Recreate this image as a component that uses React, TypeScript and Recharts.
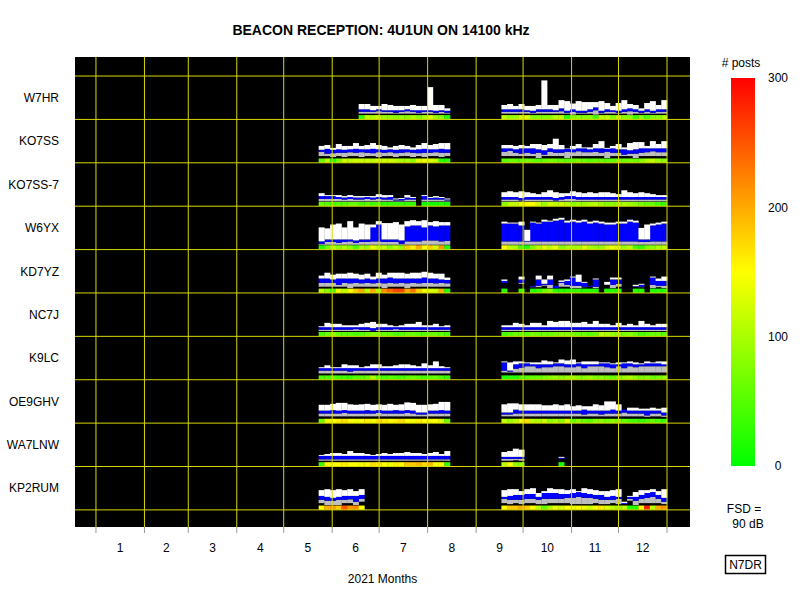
import React from 'react';
import { ComposedChart, Bar, Cell, XAxis, YAxis, CartesianGrid, ReferenceLine } from 'recharts';

// one bin = [posts, lo, q1, q3, hi] (signal levels in dB above the row floor), null = no reports
type Bin = [number, number, number, number, number] | null;

const STATIONS = ['W7HR', 'KO7SS', 'KO7SS-7', 'W6YX', 'KD7YZ', 'NC7J', 'K9LC', 'OE9GHV', 'WA7LNW', 'KP2RUM'];
const MONTH_EDGES = [0, 31, 59, 90, 120, 151, 181, 212, 243, 273, 304, 334, 365];
const MONTH_LABELS = ['1', '2', '3', '4', '5', '6', '7', '8', '9', '10', '11', '12'];
const POSTS_TICKS = [0, 100, 200, 300];

const BIN_DAYS = 3.65; // 100 bins per year
const SUMMER_FIRST = 39; // bins 39..61
const FALL_FIRST = 71; // bins 71..99

const W7HR_SUMMER: Bin[] = [
  null, null, null, null, null, null, null,
  [30, 12, 16, 21, 32], [110, 12, 16, 21, 32], [100, 12, 16, 19, 28], [120, 12, 17, 21, 28],
  [90, 12, 16, 19, 32], [90, 12, 16, 19, 30], [80, 12, 14, 19, 28], [90, 12, 16, 19, 28],
  [80, 12, 17, 21, 28], [100, 12, 16, 19, 30], [80, 12, 14, 19, 28], [100, 12, 16, 19, 28],
  [130, 12, 16, 19, 67], [90, 12, 14, 18, 30], [80, 12, 16, 19, 30], [20, 12, 14, 18, 23],
];
const W7HR_FALL: Bin[] = [
  [110, 12, 16, 21, 30], [90, 12, 16, 21, 32], [90, 12, 16, 21, 28], [130, 12, 16, 21, 32],
  [130, 12, 16, 19, 28], [80, 12, 14, 18, 28], [80, 12, 16, 21, 30], [80, 12, 16, 21, 81],
  [80, 12, 16, 21, 30], [110, 12, 16, 19, 30], [110, 12, 17, 23, 40], [20, 12, 14, 18, 38],
  [80, 10, 16, 21, 33], [80, 12, 14, 18, 38], [80, 12, 14, 18, 36], [80, 12, 16, 21, 36],
  [40, 10, 19, 25, 36], [110, 12, 14, 18, 38], [110, 12, 16, 21, 34], [80, 12, 16, 19, 28],
  [110, 12, 14, 18, 34], [80, 12, 16, 21, 40], [80, 10, 17, 23, 32], [30, 12, 16, 21, 30],
  [80, 12, 14, 18, 23], [40, 12, 16, 21, 34], [80, 12, 14, 18, 38], [80, 12, 16, 21, 30],
  [100, 12, 16, 21, 40],
];

const KO7SS_SUMMER: Bin[] = [
  [60, 14, 23, 27, 35], [110, 14, 19, 29, 37], [10, 12, 20, 27, 31], [70, 14, 21, 28, 39],
  [120, 12, 21, 27, 35], [110, 14, 22, 28, 35], [120, 14, 21, 29, 41], [120, 12, 22, 28, 35],
  [120, 14, 21, 28, 37], [110, 14, 20, 29, 41], [120, 12, 22, 28, 37], [120, 14, 21, 27, 35],
  [120, 14, 22, 28, 32], [110, 12, 20, 27, 35], [100, 14, 21, 28, 37], [100, 14, 22, 28, 35],
  [80, 12, 21, 27, 32], [130, 14, 20, 28, 37], [140, 12, 21, 29, 41], [130, 14, 21, 28, 37],
  [120, 14, 22, 28, 39], [20, 12, 21, 29, 41], [20, 14, 21, 28, 41],
];
const KO7SS_FALL: Bin[] = [
  [50, 14, 23, 30, 37], [60, 14, 25, 30, 37], [60, 14, 21, 28, 35], [50, 14, 19, 30, 37],
  [70, 14, 21, 30, 35], [60, 14, 19, 30, 39], [50, 10, 21, 28, 39], [60, 14, 17, 26, 37],
  [70, 14, 23, 30, 39], [60, 14, 21, 28, 50], [60, 14, 21, 28, 37], [50, 10, 23, 29, 30],
  [60, 14, 22, 28, 35], [70, 14, 24, 30, 39], [60, 14, 22, 30, 32], [50, 14, 22, 28, 32],
  [60, 14, 23, 30, 39], [60, 14, 21, 30, 45], [50, 10, 23, 29, 31], [60, 14, 21, 30, 35],
  [70, 14, 21, 28, 39], [60, 14, 17, 28, 32], [70, 14, 19, 26, 41], [60, 10, 19, 28, 43],
  [80, 14, 21, 30, 43], [100, 14, 22, 30, 35], [110, 14, 24, 30, 45], [90, 14, 22, 30, 39],
  [80, 14, 22, 30, 45],
];

const KO7SS7_SUMMER: Bin[] = [
  [60, 10, 15, 21, 27], [50, 10, 15, 21, 23], [40, 10, 15, 21, 23], [50, 10, 15, 19, 23],
  [50, 10, 14, 18, 21], [60, 10, 15, 19, 23], [60, 10, 14, 18, 21], [40, 10, 14, 18, 21],
  [50, 10, 15, 19, 21], [40, 10, 14, 18, 21], [40, 10, 15, 19, 25], [30, 10, 14, 18, 23],
  [30, 10, 14, 19, 23], [30, 10, 12, 14, 16], [30, 10, 12, 15, 17], [30, 10, 14, 18, 23],
  [30, 10, 14, 17, 19], null, [10, 10, 14, 21, 23], [10, 10, 14, 17, 19],
  [10, 10, 14, 18, 21], [20, 10, 14, 17, 19], [10, 10, 12, 14, 16],
];
const KO7SS7_FALL: Bin[] = [
  [80, 10, 14, 19, 29], [110, 10, 14, 19, 31], [110, 10, 14, 19, 29], [140, 10, 12, 17, 31],
  [150, 10, 14, 19, 29], [150, 10, 14, 19, 27], [120, 10, 14, 19, 25], [90, 10, 14, 19, 29],
  [120, 10, 14, 19, 33], [110, 10, 12, 17, 29], [120, 10, 14, 19, 27], [110, 10, 15, 21, 27],
  [80, 10, 15, 21, 31], [90, 10, 14, 19, 29], [90, 10, 14, 19, 27], [100, 10, 14, 19, 29],
  [110, 10, 14, 19, 27], [90, 10, 14, 19, 29], [80, 10, 14, 19, 29], [80, 10, 14, 19, 27],
  [90, 10, 14, 19, 25], [100, 10, 14, 19, 33], [90, 10, 14, 19, 29], [80, 10, 14, 19, 27],
  [70, 10, 14, 19, 29], [60, 10, 14, 19, 27], [60, 10, 14, 19, 25], [40, 10, 14, 19, 23],
  [30, 10, 14, 19, 23],
];

const W6YX_SUMMER: Bin[] = [
  [20, 10, 12, 17, 46], [60, 10, 16, 21, 44], [100, 10, 16, 21, 52], [80, 10, 14, 21, 54],
  [100, 10, 16, 21, 46], [80, 10, 17, 21, 59], [40, 10, 14, 19, 46], [100, 10, 16, 21, 54],
  [90, 10, 16, 21, 52], [140, 10, 17, 46, 52], [110, 10, 17, 52, 59], [110, 10, 16, 21, 55],
  [80, 10, 16, 21, 55], [110, 10, 16, 21, 57], [80, 10, 12, 19, 52], [180, 10, 17, 48, 59],
  [160, 10, 17, 50, 61], [200, 10, 17, 50, 59], [150, 10, 19, 46, 61], [180, 10, 19, 50, 57],
  [120, 10, 19, 48, 59], [210, 10, 17, 50, 57], [20, 10, 18, 50, 57],
];
const W6YX_FALL: Bin[] = [
  [150, 10, 17, 54, 58], [110, 10, 17, 54, 56], [100, 10, 17, 54, 56], [40, 10, 17, 50, 58],
  [20, 10, 17, 18, 41], [80, 10, 17, 56, 58], [110, 10, 17, 54, 56], [130, 10, 17, 58, 62],
  [110, 10, 17, 58, 60], [140, 10, 17, 60, 64], [80, 10, 17, 62, 66], [100, 10, 17, 56, 60],
  [100, 10, 17, 58, 62], [100, 10, 17, 56, 60], [130, 10, 17, 58, 62], [100, 10, 17, 54, 58],
  [90, 10, 17, 56, 60], [90, 10, 17, 54, 58], [120, 10, 17, 52, 56], [140, 10, 17, 52, 56],
  [120, 10, 17, 54, 58], [90, 10, 17, 54, 58], [110, 10, 17, 58, 62], [40, 10, 17, 56, 60],
  [30, 10, 16, 21, 45], [70, 10, 16, 21, 52], [80, 10, 17, 50, 54], [100, 10, 17, 52, 56],
  [110, 10, 17, 54, 58],
];

const KD7YZ_SUMMER: Bin[] = [
  [110, 13, 21, 30, 36], [80, 13, 21, 30, 42], [30, 13, 21, 28, 38], [140, 13, 17, 30, 40],
  [110, 13, 21, 30, 40], [150, 10, 20, 30, 42], [180, 13, 21, 30, 40], [200, 13, 20, 28, 38],
  [110, 13, 21, 30, 40], [200, 13, 20, 28, 34], [100, 13, 21, 30, 42], [220, 10, 20, 30, 38],
  [240, 13, 21, 32, 42], [260, 13, 20, 30, 42], [260, 13, 21, 30, 42], [200, 10, 20, 30, 40],
  [230, 13, 21, 30, 42], [180, 13, 20, 30, 42], [140, 13, 21, 32, 44], [130, 13, 21, 30, 42],
  [120, 13, 20, 30, 40], [200, 13, 21, 28, 40], [20, 13, 20, 27, 32],
];
const KD7YZ_FALL: Bin[] = [
  [20, 21, 21, 25, 28], null, null, [30, 19, 21, 28, 34],
  null, [20, 12, 13, 15, 15], [30, 12, 15, 28, 36], [60, 15, 17, 19, 28],
  [80, 10, 17, 28, 36], [20, 10, 10, 15, 15], [20, 13, 21, 23, 26], [20, 13, 17, 25, 28],
  [30, 10, 15, 32, 34], [30, 10, 15, 23, 38], [20, 12, 13, 21, 23], [20, 13, 13, 15, 15],
  [20, 10, 13, 28, 30], null, [20, 17, 17, 17, 23], [20, 10, 17, 28, 32],
  [20, 13, 19, 28, 32], null, null, [20, 13, 13, 14, 17],
  [20, 12, 13, 17, 19], null, [20, 10, 17, 32, 34], [20, 12, 15, 25, 30],
  [20, 10, 15, 25, 34],
];

const NC7J_SUMMER: Bin[] = [
  [40, 11, 14, 19, 21], [60, 11, 14, 19, 28], [80, 11, 14, 19, 26], [60, 11, 14, 19, 26],
  [50, 11, 14, 19, 23], [50, 11, 14, 19, 23], [40, 11, 15, 19, 23], [50, 11, 14, 19, 26],
  [60, 11, 14, 19, 28], [80, 11, 12, 17, 30], [70, 11, 14, 19, 26], [60, 11, 14, 19, 26],
  [60, 11, 14, 19, 23], [40, 11, 15, 19, 21], [50, 11, 14, 19, 23], [60, 11, 14, 19, 26],
  [60, 11, 14, 19, 26], [50, 11, 14, 19, 30], [50, 11, 14, 19, 23], [60, 11, 14, 19, 23],
  [60, 11, 14, 19, 26], [50, 11, 14, 19, 21], [40, 11, 14, 19, 23],
];
const NC7J_FALL: Bin[] = [
  [40, 11, 14, 19, 23], [50, 11, 14, 19, 23], [60, 11, 14, 19, 28], [60, 11, 14, 19, 26],
  [50, 11, 14, 19, 23], [70, 11, 14, 19, 28], [60, 11, 14, 19, 28], [60, 11, 14, 19, 23],
  [60, 11, 14, 19, 32], [70, 11, 14, 19, 30], [80, 11, 14, 19, 32], [80, 11, 14, 19, 32],
  [70, 11, 14, 19, 28], [60, 11, 14, 19, 28], [60, 11, 14, 19, 30], [50, 11, 14, 19, 26],
  [60, 11, 14, 19, 32], [110, 11, 14, 19, 26], [100, 11, 14, 19, 26], [90, 11, 14, 19, 23],
  [80, 11, 14, 19, 28], [70, 11, 14, 19, 23], [80, 11, 14, 19, 26], [60, 11, 14, 19, 23],
  [40, 11, 14, 19, 32], [50, 11, 14, 19, 26], [60, 11, 14, 19, 23], [60, 11, 14, 19, 26],
  [50, 11, 14, 19, 26],
];

const K9LC_SUMMER: Bin[] = [
  [40, 13, 19, 24, 26], [40, 13, 19, 24, 30], [50, 13, 19, 24, 26], [40, 13, 19, 24, 26],
  [40, 13, 19, 24, 32], [30, 13, 17, 24, 30], [50, 13, 19, 24, 30], [50, 13, 19, 24, 26],
  [60, 13, 19, 24, 28], [100, 13, 19, 24, 32], [50, 13, 19, 24, 32], [40, 13, 19, 24, 28],
  [50, 13, 19, 24, 28], [40, 13, 19, 24, 30], [40, 13, 19, 24, 32], [50, 13, 19, 24, 32],
  [60, 13, 19, 24, 30], [50, 13, 19, 24, 28], [40, 13, 19, 24, 34], [50, 13, 19, 24, 30],
  [60, 13, 19, 24, 38], [40, 13, 19, 24, 28], [30, 13, 19, 24, 26],
];
const K9LC_FALL: Bin[] = [
  [20, 15, 19, 36, 38], [20, 15, 17, 19, 36], [20, 15, 23, 32, 38], [40, 15, 25, 34, 38],
  [50, 15, 28, 34, 36], [60, 15, 28, 32, 36], [60, 15, 24, 32, 36], [70, 15, 26, 32, 40],
  [80, 15, 26, 32, 38], [90, 15, 28, 34, 36], [80, 15, 28, 34, 42], [90, 15, 26, 32, 40],
  [100, 15, 26, 32, 42], [80, 15, 28, 34, 36], [80, 15, 24, 32, 38], [90, 15, 28, 32, 38],
  [70, 15, 28, 32, 38], [80, 15, 28, 34, 36], [70, 15, 26, 34, 36], [60, 15, 24, 32, 34],
  [80, 15, 28, 32, 36], [90, 15, 24, 34, 36], [100, 15, 28, 34, 38], [80, 15, 26, 32, 36],
  [70, 15, 28, 32, 34], [80, 15, 28, 34, 38], [60, 15, 28, 34, 36], [70, 15, 28, 34, 38],
  [80, 15, 28, 32, 38],
];

const OE9GHV_SUMMER: Bin[] = [
  [60, 14, 20, 26, 38], [140, 14, 20, 26, 38], [150, 14, 20, 27, 40], [160, 14, 20, 26, 42],
  [170, 14, 21, 27, 42], [150, 14, 20, 26, 39], [140, 14, 20, 26, 38], [150, 14, 20, 26, 39],
  [160, 14, 20, 27, 40], [140, 14, 20, 26, 38], [170, 14, 21, 27, 39], [160, 14, 20, 26, 38],
  [150, 14, 20, 26, 40], [160, 14, 20, 27, 38], [170, 14, 20, 26, 39], [150, 14, 21, 27, 43],
  [140, 14, 20, 26, 42], [160, 14, 18, 22, 38], [150, 14, 18, 22, 38], [140, 14, 20, 26, 39],
  [150, 14, 20, 26, 40], [130, 14, 20, 27, 44], [60, 14, 20, 26, 44],
];
const OE9GHV_FALL: Bin[] = [
  [110, 14, 18, 22, 39], [90, 14, 18, 22, 41], [110, 14, 20, 28, 41], [140, 14, 20, 26, 39],
  [170, 14, 20, 26, 39], [110, 14, 20, 26, 39], [100, 14, 20, 26, 39], [120, 14, 20, 26, 37],
  [80, 14, 20, 26, 37], [100, 14, 20, 26, 39], [80, 14, 20, 26, 37], [130, 14, 20, 26, 39],
  [60, 14, 20, 26, 35], [80, 14, 20, 26, 37], [60, 14, 18, 28, 35], [50, 14, 20, 26, 35],
  [80, 14, 20, 26, 39], [80, 14, 18, 26, 37], [70, 14, 20, 26, 45], [80, 14, 20, 28, 45],
  [70, 14, 20, 26, 39], [60, 14, 22, 28, 28], [40, 14, 20, 26, 32], [40, 14, 20, 26, 32],
  [30, 14, 20, 26, 30], [40, 13, 16, 26, 30], [60, 14, 20, 26, 32], [40, 14, 20, 26, 30],
  [30, 13, 16, 22, 32],
];

const WA7LNW_SUMMER: Bin[] = [
  [30, 12, 15, 22, 24], [150, 12, 15, 22, 26], [150, 12, 15, 22, 28], [150, 12, 15, 22, 28],
  [160, 12, 15, 22, 26], [150, 12, 15, 22, 32], [150, 12, 15, 22, 28], [140, 12, 15, 22, 28],
  [150, 12, 15, 22, 26], [170, 12, 15, 22, 24], [160, 12, 15, 22, 26], [150, 12, 15, 22, 28],
  [140, 12, 15, 22, 26], [160, 12, 15, 22, 28], [150, 12, 15, 22, 28], [180, 12, 15, 22, 30],
  [180, 12, 15, 22, 28], [190, 12, 15, 22, 28], [170, 12, 15, 22, 26], [190, 12, 15, 22, 28],
  [150, 12, 15, 22, 30], [150, 12, 15, 22, 26], [30, 12, 15, 22, 32],
];
const WA7LNW_FALL: Bin[] = [
  [110, 12, 16, 20, 30], [150, 12, 16, 20, 32], [80, 13, 16, 20, 37], [80, 12, 16, 20, 35],
  null, null, null, null, null, null,
  [10, 16, 16, 18, 20],
  null, null, null, null, null, null, null, null, null,
  null, null, null, null, null, null, null, null, null,
];

const KP2RUM_SUMMER: Bin[] = [
  [150, 14, 21, 29, 41], [200, 10, 19, 27, 43], [210, 10, 19, 25, 41], [180, 10, 21, 27, 43],
  [250, 14, 21, 29, 41], [210, 14, 22, 29, 43], [220, 10, 17, 29, 39], [150, 17, 23, 31, 43],
  null, null, null, null, null, null, null, null, null, null, null, null, null, null, null,
];
const KP2RUM_FALL: Bin[] = [
  [150, 14, 23, 27, 41], [180, 12, 21, 29, 43], [180, 14, 21, 31, 43], [200, 12, 21, 31, 39],
  [180, 14, 23, 33, 43], [150, 14, 23, 33, 45], [110, 12, 21, 27, 35], [60, 12, 23, 35, 39],
  [100, 14, 23, 35, 45], [140, 14, 23, 35, 43], [120, 14, 23, 33, 43], [150, 14, 25, 33, 41],
  [140, 12, 25, 35, 43], [150, 12, 27, 37, 39], [140, 12, 25, 35, 45], [120, 12, 25, 33, 43],
  [150, 14, 23, 31, 41], [160, 12, 21, 31, 39], [130, 12, 21, 27, 39], [110, 14, 21, 29, 41],
  [90, 12, 23, 27, 43], [110, 12, 12, 14, 17], [20, 19, 23, 27, 29], [20, 10, 19, 27, 37],
  [150, 14, 23, 31, 41], [280, 14, 25, 35, 41], [110, 14, 27, 37, 43], [200, 14, 23, 31, 39],
  [210, 12, 17, 25, 43],
];

const SUMMER = [W7HR_SUMMER, KO7SS_SUMMER, KO7SS7_SUMMER, W6YX_SUMMER, KD7YZ_SUMMER, NC7J_SUMMER, K9LC_SUMMER, OE9GHV_SUMMER, WA7LNW_SUMMER, KP2RUM_SUMMER];
const FALL = [W7HR_FALL, KO7SS_FALL, KO7SS7_FALL, W6YX_FALL, KD7YZ_FALL, NC7J_FALL, K9LC_FALL, OE9GHV_FALL, WA7LNW_FALL, KP2RUM_FALL];

// vertical layout, in dB: each station row is full scale (90 dB)
const FSD = 90;
const FLOOR = 35.5;
const Y_TOP = 975;
const STRIP = 9;
const X_DOMAIN = [-13.4, 379.7];

const FONT = '"Liberation Sans", Arial, Helvetica, sans-serif';

const postsColor = (n: number) => {
  const t = Math.max(0, Math.min(300, n));
  if (t <= 150) return `rgb(${Math.round((255 * t) / 150)},255,0)`;
  return `rgb(255,${Math.round((255 * (300 - t)) / 150)},0)`;
};

const rowBase = (r: number) => FLOOR + (STATIONS.length - 1 - r) * FSD;

const buildData = () => {
  const out: Record<string, number | string>[] = [];
  const addPeriod = (first: number, period: Bin[][]) => {
    for (let i = 0; i < period[0].length; i++) {
      const row: Record<string, number | string> = { day: (first + i + 0.5) * BIN_DAYS };
      let level = 0;
      for (let r = STATIONS.length - 1; r >= 0; r--) {
        const base = rowBase(r);
        const b = period[r][i];
        row[`pad${r}`] = base - level;
        if (b) {
          const [posts, lo, q1, q3, hi] = b;
          const t1 = Math.max(lo, STRIP);
          const t2 = Math.max(q1, t1);
          const t3 = Math.max(q3, t2);
          const t4 = Math.max(hi, t3);
          row[`strip${r}`] = STRIP;
          row[`gap${r}`] = t1 - STRIP;
          row[`gray${r}`] = t2 - t1;
          row[`blue${r}`] = t3 - t2;
          row[`white${r}`] = t4 - t3;
          row[`color${r}`] = postsColor(posts);
          level = base + t4;
        } else {
          row[`strip${r}`] = 0;
          row[`gap${r}`] = 0;
          row[`gray${r}`] = 0;
          row[`blue${r}`] = 0;
          row[`white${r}`] = 0;
          row[`color${r}`] = 'none';
          level = base;
        }
      }
      out.push(row);
    }
  };
  addPeriod(SUMMER_FIRST, SUMMER);
  addPeriod(FALL_FIRST, FALL);
  return out;
};

const data = buildData();

const SEGMENTS = [
  { key: 'pad', fill: 'none' },
  { key: 'strip', fill: '' },
  { key: 'gap', fill: 'none' },
  { key: 'gray', fill: '#bebebe' },
  { key: 'blue', fill: '#0000ff' },
  { key: 'white', fill: '#ffffff' },
];

const monthMids = MONTH_LABELS.map((_, i) => (MONTH_EDGES[i] + MONTH_EDGES[i + 1]) / 2);
const rowCenters = STATIONS.map((_, r) => rowBase(r) + FSD / 2);
const rowLines = [...STATIONS.map((_, r) => rowBase(r)), rowBase(0) + FSD];

const PostsTick = (props: any) => {
  const { x, y, payload } = props;
  return (
    <text x={x} y={y} dy="0.35em" textAnchor="middle" fill="#000" fontSize={12} fontFamily={FONT}>
      {payload.value}
    </text>
  );
};

const GRID = '#d8d800';

export default function App() {
  const stationBars: React.ReactNode[] = [];
  for (let r = STATIONS.length - 1; r >= 0; r--) {
    SEGMENTS.forEach((seg) => {
      const key = `${seg.key}${r}`;
      if (seg.key === 'strip') {
        stationBars.push(
          <Bar key={key} dataKey={key} stackId="s" xAxisId="edges" isAnimationActive={false}>
            {data.map((d, i) => (
              <Cell key={i} fill={d[`color${r}`] as string} />
            ))}
          </Bar>
        );
      } else {
        stationBars.push(
          <Bar key={key} dataKey={key} stackId="s" xAxisId="edges" fill={seg.fill} isAnimationActive={false} />
        );
      }
    });
  }

  return (
    <div style={{ position: 'absolute', left: 0, top: 0, width: 800, height: 600, background: '#fff', fontFamily: FONT }}>
      <ComposedChart
        width={800}
        height={600}
        data={data}
        margin={{ top: 57, right: 110, bottom: 0, left: 0 }}
        barCategoryGap={0}
        barGap={0}
      >
        <CartesianGrid xAxisId="edges" fill="#000" horizontal={false} vertical={false} />
        <XAxis
          xAxisId="edges"
          type="number"
          dataKey="day"
          domain={X_DOMAIN}
          ticks={MONTH_EDGES}
          interval={0}
          tickFormatter={() => ''}
          tickSize={6}
          tickLine={{ stroke: '#999' }}
          axisLine={false}
          height={8}
          allowDataOverflow
        />
        <XAxis
          xAxisId="months"
          type="number"
          dataKey="day"
          domain={X_DOMAIN}
          ticks={monthMids}
          interval={0}
          tickFormatter={(v: number) => MONTH_LABELS[monthMids.indexOf(v)]}
          tickLine={false}
          axisLine={false}
          tick={{ fill: '#000', fontSize: 12 }}
          height={65}
          allowDataOverflow
          label={{ value: '2021 Months', position: 'insideBottom', offset: 17, fill: '#000', fontSize: 12 }}
        />
        <YAxis
          type="number"
          domain={[0, Y_TOP]}
          ticks={rowCenters}
          interval={0}
          tickFormatter={(v: number) => STATIONS[rowCenters.indexOf(v)]}
          width={75}
          tickLine={false}
          axisLine={false}
          tickSize={6}
          tickMargin={10}
          tick={{ fill: '#000', fontSize: 12 }}
          allowDataOverflow
        />
        {stationBars}
        {rowLines.map((v) => (
          <ReferenceLine key={`h${v}`} y={v} xAxisId="edges" stroke={GRID} strokeWidth={1} />
        ))}
        {MONTH_EDGES.map((d) => (
          <ReferenceLine key={`v${d}`} x={d} xAxisId="edges" stroke={GRID} strokeWidth={1} />
        ))}
      </ComposedChart>

      <div style={{ position: 'absolute', left: 731, top: 68 }}>
        <ComposedChart
          width={69}
          height={408}
          data={[{ name: 'posts', top: 300 }]}
          margin={{ top: 10, right: 0, bottom: 10, left: 0 }}
          barCategoryGap={0}
        >
          <defs>
            <linearGradient id="postsScale" x1="0" y1="0" x2="0" y2="1">
              <stop offset="0" stopColor="#ff0000" />
              <stop offset="0.5" stopColor="#ffff00" />
              <stop offset="1" stopColor="#00ff00" />
            </linearGradient>
          </defs>
          <XAxis dataKey="name" hide />
          <YAxis
            orientation="right"
            type="number"
            domain={[0, 300]}
            ticks={POSTS_TICKS}
            interval={0}
            width={45}
            tickLine={false}
            axisLine={false}
            tickSize={0}
            tickMargin={23}
            tick={<PostsTick />}
          />
          <Bar dataKey="top" fill="url(#postsScale)" isAnimationActive={false} />
        </ComposedChart>
      </div>

      <svg width={800} height={600} style={{ position: 'absolute', left: 0, top: 0, pointerEvents: 'none' }}>
        <text x={381} y={30} textAnchor="middle" dominantBaseline="central" fontSize={14} fontWeight="bold" fill="#000" fontFamily={FONT}>
          BEACON RECEPTION: 4U1UN ON 14100 kHz
        </text>
        <text x={741} y={63} textAnchor="middle" dominantBaseline="central" fontSize={12} fill="#000" fontFamily={FONT}>
          # posts
        </text>
        <text x={744} y={509} textAnchor="middle" dominantBaseline="central" fontSize={12} fill="#000" fontFamily={FONT}>
          FSD =
        </text>
        <text x={748} y={524} textAnchor="middle" dominantBaseline="central" fontSize={12} fill="#000" fontFamily={FONT}>
          90 dB
        </text>
        <rect x={725.5} y={555.5} width={40} height={18} fill="none" stroke="#000" strokeWidth={1.5} />
        <text x={745.5} y={565} textAnchor="middle" dominantBaseline="central" fontSize={12} fill="#000" fontFamily={FONT}>
          N7DR
        </text>
      </svg>
    </div>
  );
}
